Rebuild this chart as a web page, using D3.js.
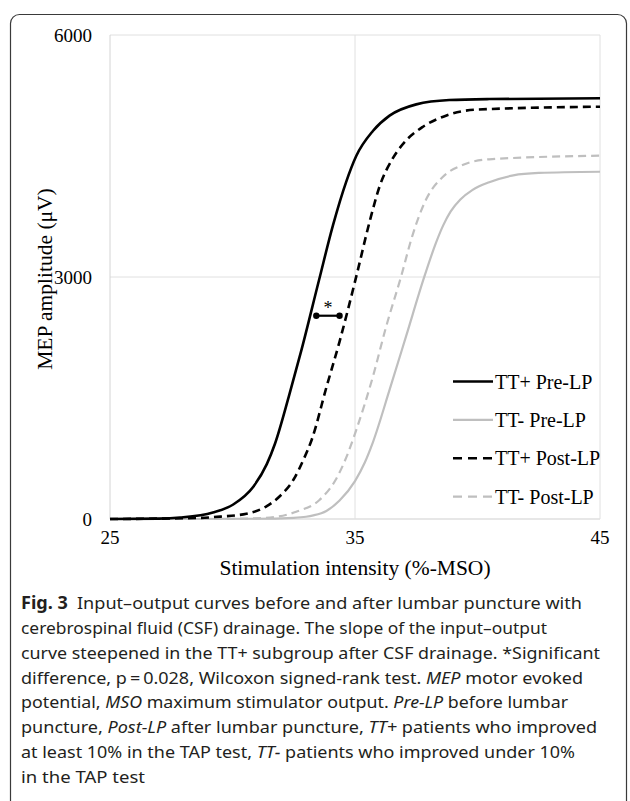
<!DOCTYPE html>
<html>
<head>
<meta charset="utf-8">
<style>
  body { margin: 0; background: #fff; }
  svg { display: block; }
  .tick-label { font-family: "Liberation Serif", "Times New Roman", serif; font-size: 19px; fill: #000; }
  .axis-title { font-family: "Liberation Serif", "Times New Roman", serif; font-size: 21.5px; fill: #000; }
  .legend-text { font-family: "Liberation Serif", "Times New Roman", serif; font-size: 20px; fill: #000; }
  .caption { font-family: "Noto Sans", sans-serif; font-size: 17px; fill: #231f20; }
</style>
</head>
<body>
<div id="chart"></div>
<script src="https://cdn.jsdelivr.net/npm/d3@7"></script>
<script>
// values: [stimulation %-MSO, MEP amplitude uV]
const ttPlusPre = [[25,0],[27,5],[27.86,18],[29.2,80],[30.03,180],[30.85,400],[31.4,680],[31.73,930],
  [32.3,1520],[32.81,2090],[33.53,2960],[34.1,3640],[34.64,4180],[35.05,4500],[35.73,4810],
  [36.41,5000],[37.5,5140],[38.85,5194],[40.48,5206],[45,5215]];
const ttMinusPre = [[25,0],[31,3],[32.5,15],[33.0,28],[33.3,45],[33.83,100],[34.37,230],[35.0,470],
  [35.4,700],[35.73,950],[36.41,1600],[37.08,2260],[37.83,3004],[38.3,3420],[38.6,3640],
  [38.9,3810],[39.3,3960],[39.8,4080],[40.48,4175],[41.46,4260],[42.5,4290],[45,4305]];
const ttPlusPost = [[25,0],[28.5,12],[29.5,30],[30.57,65],[31.4,160],[31.94,285],[32.48,483],
  [32.89,731],[33.23,980],[33.84,1640],[34.37,2200],[35.05,3004],[35.6,3690],[36.0,4120],
  [36.54,4470],[37.08,4690],[37.76,4860],[38.71,5000],[39.94,5075],[45,5111]];
const ttMinusPost = [[25,0],[30,3],[31.25,12],[32.6,90],[33.55,236],[34.2,480],[34.64,760],
  [35.05,1103],[35.73,1764],[36.27,2384],[36.88,3004],[37.35,3520],[37.9,3960],[38.58,4240],
  [39.39,4388],[40.48,4459],[45,4504]];

// significance bracket between TT+ pre and post
const sigBracket = [[33.42,2520],[34.37,2520]];

const xTicks = [25, 35, 45];
const yTicks = [0, 3000, 6000];

const seriesNames = ["TT+ Pre-LP", "TT- Pre-LP", "TT+ Post-LP", "TT- Post-LP"];
const seriesData = [ttPlusPre, ttMinusPre, ttPlusPost, ttMinusPost];
const seriesColor = ["#000000", "#bfbfbf", "#000000", "#bfbfbf"];
const seriesDash = [null, null, "8,5", "8,5"];
const seriesWidth = [2.6, 2.2, 2.6, 2.2];

const captionLines = [
  [["Fig. 3", "bold"], ["\u2002Input\u2013output curves before and after lumbar puncture with", ""]],
  [["cerebrospinal fluid (CSF) drainage. The slope of the input\u2013output", ""]],
  [["curve steepened in the TT+ subgroup after CSF drainage. *Significant", ""]],
  [["difference, p\u2009=\u20090.028, Wilcoxon signed-rank test. ", ""], ["MEP", "italic"], [" motor evoked", ""]],
  [["potential, ", ""], ["MSO", "italic"], [" maximum stimulator output. ", ""], ["Pre-LP", "italic"], [" before lumbar", ""]],
  [["puncture, ", ""], ["Post-LP", "italic"], [" after lumbar puncture, ", ""], ["TT+", "italic"], [" patients who improved", ""]],
  [["at least 10% in the TAP test, ", ""], ["TT\u2212", "italic"], [" patients who improved under 10%", ""]],
  [["in the TAP test", ""]]
];
const captionWidths = [561, 526, 579, 562, 547, 576, 554, 124];

const W = 630, H = 801;
const plotLeft = 110, plotRight = 600, plotTop = 35, plotBottom = 519;

const svg = d3.select("#chart").append("svg")
  .attr("width", W).attr("height", H);

// outer frame of the figure box
svg.append("rect")
  .attr("x", 10.5).attr("y", 14.5)
  .attr("width", 616).attr("height", 820)
  .attr("rx", 9)
  .attr("fill", "none")
  .attr("stroke", "#3a3a3a")
  .attr("stroke-width", 1.2);

const x = d3.scaleLinear().domain([25, 45]).range([plotLeft, plotRight]);
const y = d3.scaleLinear().domain([0, 6000]).range([plotBottom, plotTop]);

// gridlines + plot border
const grid = svg.append("g");
yTicks.forEach(t => {
  grid.append("line")
    .attr("x1", plotLeft).attr("x2", plotRight)
    .attr("y1", y(t)).attr("y2", y(t))
    .attr("stroke", t === 0 ? "#cfcfcf" : "#e0e0e0").attr("stroke-width", 1);
});
xTicks.forEach(t => {
  grid.append("line")
    .attr("x1", x(t)).attr("x2", x(t))
    .attr("y1", plotTop).attr("y2", plotBottom)
    .attr("stroke", t === 25 ? "#d4d4d4" : "#e0e0e0").attr("stroke-width", 1);
});

// tick labels
svg.selectAll(".ylab").data(yTicks).enter().append("text")
  .attr("class", "tick-label")
  .attr("x", 92).attr("y", d => y(d))
  .attr("dy", "0.35em")
  .attr("text-anchor", "end")
  .text(d => d);

svg.selectAll(".xlab").data(xTicks).enter().append("text")
  .attr("class", "tick-label")
  .attr("x", d => x(d)).attr("y", 544)
  .attr("text-anchor", "middle")
  .text(d => d);

// axis titles
svg.append("text")
  .attr("class", "axis-title")
  .attr("x", 355).attr("y", 575)
  .attr("text-anchor", "middle")
  .text("Stimulation intensity (%-MSO)");

svg.append("text")
  .attr("class", "axis-title")
  .attr("transform", "translate(52,279) rotate(-90)")
  .attr("text-anchor", "middle")
  .text("MEP amplitude (\u03bcV)");

// curves
const line = d3.line()
  .x(d => x(d[0]))
  .y(d => y(d[1]))
  .curve(d3.curveMonotoneX);

const drawOrder = [1, 3, 2, 0];
drawOrder.forEach(i => {
  svg.append("path")
    .datum(seriesData[i])
    .attr("fill", "none")
    .attr("stroke", seriesColor[i])
    .attr("stroke-width", seriesWidth[i])
    .attr("stroke-dasharray", seriesDash[i])
    .attr("d", line);
});

// significance marker
svg.append("line")
  .attr("x1", x(sigBracket[0][0])).attr("x2", x(sigBracket[1][0]))
  .attr("y1", y(sigBracket[0][1])).attr("y2", y(sigBracket[1][1]))
  .attr("stroke", "#000").attr("stroke-width", 2.2);
svg.selectAll(".sigdot").data(sigBracket).enter().append("circle")
  .attr("cx", d => x(d[0])).attr("cy", d => y(d[1]))
  .attr("r", 3.2).attr("fill", "#000");
svg.append("text")
  .attr("x", x((sigBracket[0][0] + sigBracket[1][0]) / 2))
  .attr("y", y(sigBracket[0][1]) - 2)
  .attr("text-anchor", "middle")
  .style("font-family", "Liberation Serif, serif")
  .style("font-size", "18px")
  .text("*");

// legend
const legend = svg.append("g");
seriesNames.forEach((name, i) => {
  const ly = 381.5 + i * 38.4;
  legend.append("line")
    .attr("x1", 453).attr("x2", 493)
    .attr("y1", ly).attr("y2", ly)
    .attr("stroke", seriesColor[i])
    .attr("stroke-width", seriesWidth[i])
    .attr("stroke-dasharray", seriesDash[i] ? "9,6" : null);
  legend.append("text")
    .attr("class", "legend-text")
    .attr("x", 495).attr("y", ly)
    .attr("dy", "0.35em")
    .text(name);
});

// caption
captionLines.forEach((parts, i) => {
  const t = svg.append("text")
    .attr("class", "caption")
    .attr("x", 21)
    .attr("y", 609 + i * 24.85)
    .attr("textLength", captionWidths[i])
    .attr("lengthAdjust", "spacingAndGlyphs");
  parts.forEach(p => {
    const s = t.append("tspan").text(p[0]);
    if (p[1] === "bold") s.style("font-weight", "bold").style("fill", "#231f20");
    if (p[1] === "italic") s.style("font-style", "italic");
  });
});
</script>
</body>
</html>
